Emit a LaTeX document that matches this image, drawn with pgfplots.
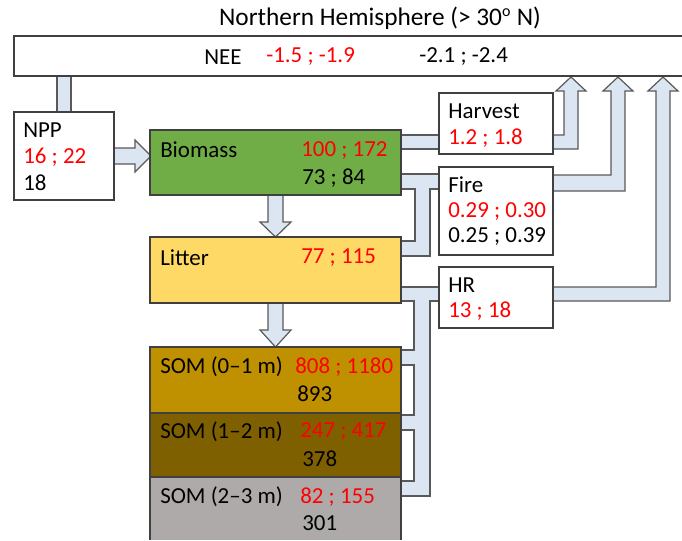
\documentclass[border=0pt]{standalone}
\usepackage{pgfplots}
\pgfplotsset{compat=1.18}
\usepackage{fontspec}
\setmainfont{Carlito}
\definecolor{flowc}{HTML}{DCE6F2}
\definecolor{flowline}{HTML}{595959}
\definecolor{boxc}{HTML}{404040}
\definecolor{biom}{HTML}{70AD47}
\definecolor{litt}{HTML}{FFD966}
\definecolor{somA}{HTML}{BF9000}
\definecolor{somB}{HTML}{7F6000}
\definecolor{somC}{HTML}{AEAAAA}
\definecolor{redt}{HTML}{FF0000}
\newcommand{\pbox}[5]{\addplot[fill=#5, draw=boxc, line width=0.9pt] coordinates {(#1,#2)(#3,#2)(#3,#4)(#1,#4)} -- cycle;}
\newcommand{\txt}[3]{\node[anchor=west, inner sep=0pt, text=#3, font=\fontsize{17.2}{20}\selectfont] at (axis cs:#1) {#2};}
\begin{document}
\begin{tikzpicture}
\begin{axis}[
  width=511.5pt, height=405pt, scale only axis,
  xmin=0, xmax=682, ymin=0, ymax=540, y dir=reverse,
  hide axis, clip=false,
]
% ---- flows (light blue) ----
\pgfplotsset{flow/.style={fill=flowc, draw=flowline, line width=0.9pt}}
% NEE -> NPP stem
\addplot[flow] coordinates {(57,76)(71,76)(71,112)(57,112)} -- cycle;
% NPP -> Biomass arrow
\addplot[flow] coordinates {(114,148)(135,148)(135,140)(151,156)(135,172)(135,164)(114,164)} -- cycle;
% Biomass -> Litter arrow
\addplot[flow] coordinates {(268,194)(283,194)(283,222)(291,222)(275.5,237)(260,222)(268,222)} -- cycle;
% Litter -> SOM arrow
\addplot[flow] coordinates {(268,303)(283,303)(283,330)(291,330)(275.5,347)(260,330)(268,330)} -- cycle;
% Biomass -> Harvest
\addplot[flow] coordinates {(401,135)(439,135)(439,149)(401,149)} -- cycle;
% Biomass + Litter -> Fire
\addplot[flow] coordinates {(401,174)(439,174)(439,189)(430,189)(430,256)(401,256)(401,241)(415,241)(415,189)(401,189)} -- cycle;
% Litter + SOM -> HR
\addplot[flow] coordinates {(401,287)(439,287)(439,301)(430,301)(430,496)(401,496)(401,481)(414,481)(414,430)(401,430)(401,415)(414,415)(414,365)(401,365)(401,350)(414,350)(414,301)(401,301)} -- cycle;
% Harvest -> NEE
\addplot[flow] coordinates {(553,135)(564,135)(564,91)(556,91)(571,77)(586,91)(578,91)(578,149)(553,149)} -- cycle;
% Fire -> NEE
\addplot[flow] coordinates {(553,175)(611,175)(611,91)(603,91)(618,77)(633,91)(625,91)(625,191)(553,191)} -- cycle;
% HR -> NEE
\addplot[flow] coordinates {(553,287)(656,287)(656,91)(648,91)(663,77)(678,91)(670,91)(670,301)(553,301)} -- cycle;
% ---- boxes ----
\addplot[fill=white, draw=none] coordinates {(14,36)(682,36)(682,76)(14,76)} -- cycle;
\addplot[draw=boxc, line width=0.9pt] coordinates {(682,36)(14,36)(14,76)(682,76)};
\pbox{14}{112}{114}{200}{white}
\pbox{150}{130}{401}{195}{biom}
\pbox{150}{237}{401}{303}{litt}
\pbox{150}{347}{401}{413}{somA}
\pbox{150}{413}{401}{477}{somB}
\addplot[fill=somC, draw=none] coordinates {(150,477)(401,477)(401,540)(150,540)} -- cycle;
\addplot[draw=boxc, line width=0.9pt] coordinates {(150,540)(150,477)(401,477)(401,540)};
\pbox{439}{93}{553}{154}{white}
\pbox{439}{167}{553}{255}{white}
\pbox{439}{267}{553}{328}{white}
% ---- texts ----
\node[anchor=center, inner sep=0pt, font=\fontsize{19}{22}\selectfont] at (axis cs:380,18) {Northern Hemisphere (> 30\textsuperscript{\fontsize{12}{12}\selectfont o} N)};
\txt{204,57}{NEE}{black}
\txt{266,57}{-1.5 ; -1.9}{redt}
\txt{419,57}{-2.1 ; -2.4}{black}
\txt{23,130}{NPP}{black}
\txt{23,157}{16 ; 22}{redt}
\txt{23,183}{18}{black}
\txt{160,150}{Biomass}{black}
\txt{301,151}{100 ; 172}{redt}
\txt{302,178}{73 ; 84}{black}
\txt{160,258}{Litter}{black}
\txt{301,258}{77 ; 115}{redt}
\txt{448,111}{Harvest}{black}
\txt{448,138}{1.2 ; 1.8}{redt}
\txt{448,185}{Fire}{black}
\txt{448,212}{0.29 ; 0.30}{redt}
\txt{448,237}{0.25 ; 0.39}{black}
\txt{448,285}{HR}{black}
\txt{448,311}{13 ; 18}{redt}
\txt{160,367}{SOM (0–1 m)}{black}
\txt{295,367}{808 ; 1180}{redt}
\txt{297,394}{893}{black}
\txt{160,432}{SOM (1–2 m)}{black}
\txt{300,432}{247 ; 417}{redt}
\txt{302,459}{378}{black}
\txt{160,497}{SOM (2–3 m)}{black}
\txt{300,497}{82 ; 155}{redt}
\txt{302,523}{301}{black}
\end{axis}
\pgfresetboundingbox
\path[use as bounding box] (current axis.south west) rectangle (current axis.north east);
\end{tikzpicture}
\end{document}
